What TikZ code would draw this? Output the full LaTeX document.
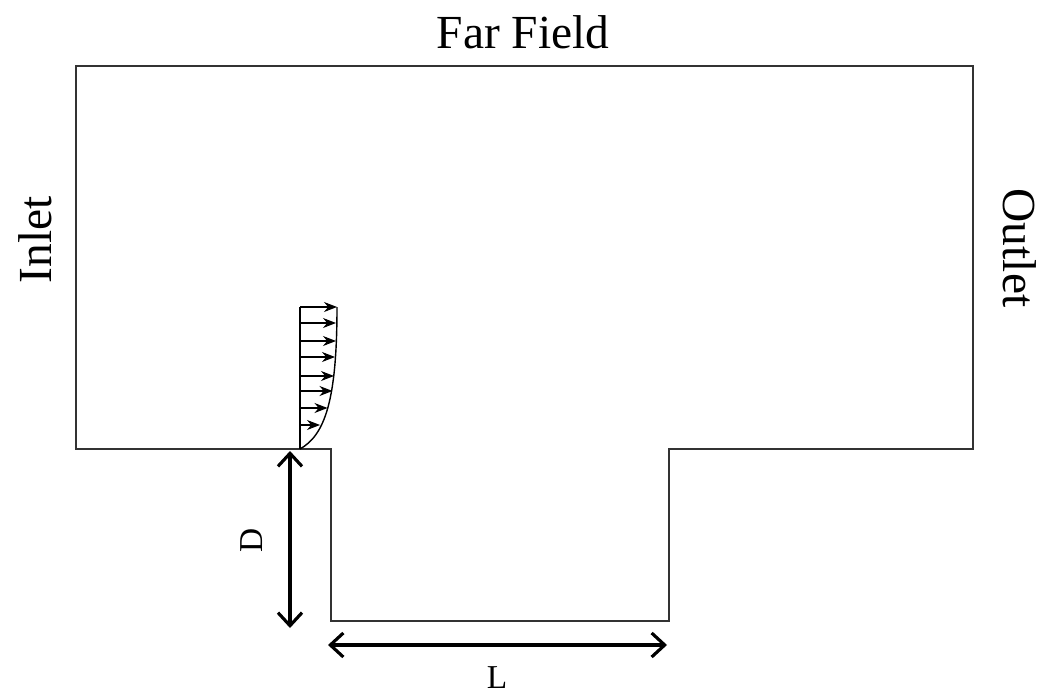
\documentclass[tikz,border=0pt]{standalone}
\usepackage{fontspec}
\setmainfont{Liberation Serif}
\usetikzlibrary{arrows.meta}

\begin{document}
\begin{tikzpicture}[
    wall/.style = {draw = black!80, line width = 1pt},
    dimension/.style = {line width = 1.8pt,
        {Straight Barb[length=2.6mm, width=4.8mm]}-{Straight Barb[length=2.6mm, width=4.8mm]}},
    velocity/.style = {line width = 0.6pt, -{Stealth[length=2.6mm, width=2mm]}},
    boundary/.style = {font = \fontsize{27}{30}\selectfont},
    dimlabel/.style = {font = \fontsize{19}{21}\selectfont}
]

\useasboundingbox (0,0) rectangle (20.86,13.9);

% --- Corners of the domain (cm) ---
\coordinate (topleft)   at ( 1.52, 12.58);
\coordinate (topright)  at (19.46, 12.58);
\coordinate (stepright) at (19.46,  4.92);
\coordinate (cavtopr)   at (13.38,  4.92);
\coordinate (cavbotr)   at (13.38,  1.48);
\coordinate (cavbotl)   at ( 6.62,  1.48);
\coordinate (cavtopl)   at ( 6.62,  4.92);
\coordinate (stepleft)  at ( 1.52,  4.92);

\draw[wall] (topleft) -- (topright) -- (stepright) -- (cavtopr)
    -- (cavbotr) -- (cavbotl) -- (cavtopl) -- (stepleft) -- cycle;

% --- Inlet velocity profile ---
\coordinate (profbase) at (6.0, 4.92);
\coordinate (proftop)  at (6.0, 7.76);
\draw[line width = 0.8pt] (profbase) -- (proftop);
\draw[line width = 0.8pt] (profbase)
    .. controls (6.5, 5.2) and (6.74, 5.9) .. (6.74, 7.76);
\foreach \y/\tip in {7.76/6.74, 7.44/6.72, 7.08/6.72, 6.76/6.70,
                     6.38/6.68, 6.08/6.65, 5.74/6.55, 5.40/6.40}
    \draw[velocity] (6.0, \y) -- (\tip, \y);

% --- Dimensions ---
\coordinate (dtop) at (5.80, 4.88);
\coordinate (dbot) at (5.80, 1.34);
\coordinate (lleft)  at ( 6.56, 1.0);
\coordinate (lright) at (13.34, 1.0);
\draw[dimension] (dtop) -- (dbot);
\draw[dimension] (lleft) -- (lright);

% --- Labels ---
\node[boundary] (farfield) at (10.46, 13.26) {Far Field};
\node[boundary, rotate = 90]  (inlet)  at ( 0.70, 9.10) {Inlet};
\node[boundary, rotate = -90] (outlet) at (20.40, 8.94) {Outlet};
\node[dimlabel, rotate = 90] (dlabel) at (5.04, 3.10) {D};
\node[dimlabel] (llabel) at (9.94, 0.34) {L};

\end{tikzpicture}
\end{document}
